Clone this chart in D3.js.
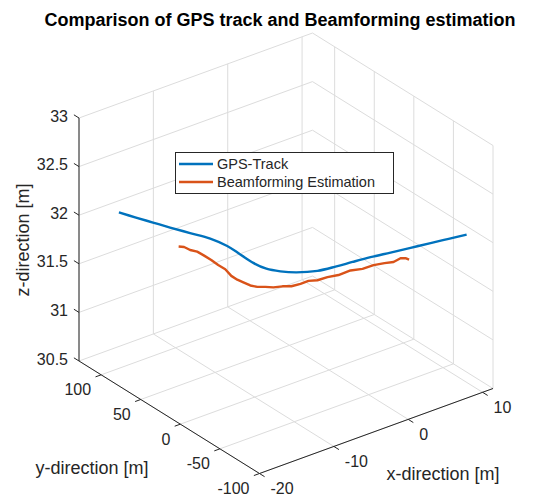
<!DOCTYPE html>
<html><head><meta charset="utf-8">
<script src="https://cdn.jsdelivr.net/npm/d3@7"></script>
<style>body{margin:0;background:#fff}svg{display:block}text{font-family:"Liberation Sans",Arial,Helvetica,sans-serif;fill:#262626}</style>
</head><body><svg id="c" width="536" height="497"></svg>
<script>
// ---- data ----
const gpsX = [-16.23,-15.49,-14.72,-13.95,-13.0,-12.04,-11.61,-11.65,-11.70,-11.38,-10.55,-9.33,-7.34,-5.12,-3.15,-0.97,1.36,3.70,6.05,8.16,10.27];
const gpsY = [113.0,98.4,84.1,69.8,53.4,37.0,19.6,2.7,-14.2,-27.7,-37.6,-46.4,-54.3,-57.4,-59.2,-61.5,-64.9,-68.2,-71.4,-74.4,-77.3];
const gpsZ = [32.0,32.0,32.0,32.0,32.0,32.0,32.0,32.0,32.0,32.0,32.0,32.0,32.0,32.0,32.0,32.0,32.0,32.0,32.0,32.0,32.0];
const bfX = [-13.82,-13.49,-13.26,-13.0,-12.88,-12.96,-12.91,-12.99,-13.35,-13.31,-13.28,-13.03,-12.57,-12.01,-11.34,-10.50,-9.61,-8.57,-7.55,-6.58,-5.41,-4.12,-2.57,-1.21,0.14,1.40,2.37,3.36,3.86,3.96];
const bfY = [60.2,56.4,50.9,44.5,36.8,27.1,18.8,9.1,-1.9,-9.1,-16.5,-22.9,-27.5,-32.3,-36.2,-39.7,-42.7,-44.4,-44.9,-47.1,-48.8,-50.6,-51.2,-53.6,-54.9,-56.9,-59.2,-58.7,-60.3,-63.9];
const bfZ = [31.850,31.855,31.846,31.854,31.849,31.856,31.845,31.853,31.850,31.846,31.855,31.849,31.845,31.854,31.850,31.855,31.846,31.851,31.855,31.846,31.854,31.849,31.856,31.846,31.854,31.850,31.846,31.854,31.850,31.850];
const xTicks = [-20,-10,0,10];
const yTicks = [-100,-50,0,50,100];
const zTicks = [30.5,31,31.5,32,32.5,33];
const xTickLabels = ["-20","-10","0","10"];
const yTickLabels = ["-100","-50","0","50","100"];
const zTickLabels = ["30.5","31","31.5","32","32.5","33"];
const xLim = [-20, 11.4], yLim = [-100, 128], zLim = [30.5, 33];
const seriesNames = ["GPS-Track","Beamforming Estimation"];
const seriesColors = ["#0072BD","#D95319"];
const titleText = "Comparison of GPS track and Beamforming estimation";

// ---- projection ----
const svg = d3.select("#c");
const O = [259.5, 473.5], VX = [233.5, -85], VY = [-180.5, -112.5], VZ = [0, -243];
const fx = d3.scaleLinear().domain(xLim).range([0,1]);
const fy = d3.scaleLinear().domain(yLim).range([0,1]);
const fz = d3.scaleLinear().domain(zLim).range([0,1]);
function P(x,y,z){const a=fx(x),b=fy(y),c=fz(z);return [O[0]+a*VX[0]+b*VY[0]+c*VZ[0],O[1]+a*VX[1]+b*VY[1]+c*VZ[1]];}
function unit(v){const l=Math.hypot(v[0],v[1]);return [v[0]/l,v[1]/l];}
const [x0,x1]=xLim,[y0,y1]=yLim,[z0,z1]=zLim;

const segs = [];
xTicks.forEach(x=>{segs.push([P(x,y1,z0),P(x,y1,z1)]); segs.push([P(x,y0,z0),P(x,y1,z0)]);});
yTicks.forEach(y=>{segs.push([P(x1,y,z0),P(x1,y,z1)]); segs.push([P(x0,y,z0),P(x1,y,z0)]);});
zTicks.forEach(z=>{segs.push([P(x0,y1,z),P(x1,y1,z)]); segs.push([P(x1,y0,z),P(x1,y1,z)]);});
svg.append("g").selectAll("line").data(segs).join("line")
  .attr("x1",d=>d[0][0]).attr("y1",d=>d[0][1]).attr("x2",d=>d[1][0]).attr("y2",d=>d[1][1])
  .attr("stroke","#dcdcdc").attr("stroke-width",1);

// axes
const ax = svg.append("g").attr("stroke","#262626").attr("stroke-width",1);
[[P(x0,y1,z0),P(x0,y1,z1)],[P(x0,y0,z0),P(x0,y1,z0)],[P(x0,y0,z0),P(x1,y0,z0)]].forEach(s=>{
  ax.append("line").attr("x1",s[0][0]).attr("y1",s[0][1]).attr("x2",s[1][0]).attr("y2",s[1][1]);
});
const TL=6, uX=unit(VX), uY=unit(VY);
zTicks.forEach((z,i)=>{const p=P(x0,y1,z);
  ax.append("line").attr("x1",p[0]).attr("y1",p[1]).attr("x2",p[0]+uY[0]*TL).attr("y2",p[1]+uY[1]*TL);
  svg.append("text").attr("x",p[0]-11).attr("y",p[1]-2).attr("text-anchor","end").attr("dominant-baseline","central").attr("font-size",16).text(zTickLabels[i]);
});
yTicks.forEach((y,i)=>{const p=P(x0,y,z0);
  ax.append("line").attr("x1",p[0]).attr("y1",p[1]).attr("x2",p[0]-uX[0]*TL).attr("y2",p[1]-uX[1]*TL);
  svg.append("text").attr("x",p[0]-10).attr("y",p[1]+15).attr("text-anchor","end").attr("dominant-baseline","central").attr("font-size",16).text(yTickLabels[i]);
});
xTicks.forEach((x,i)=>{const p=P(x,y0,z0);
  ax.append("line").attr("x1",p[0]).attr("y1",p[1]).attr("x2",p[0]-uY[0]*TL).attr("y2",p[1]-uY[1]*TL);
  svg.append("text").attr("x",p[0]+11).attr("y",p[1]+15).attr("text-anchor","start").attr("dominant-baseline","central").attr("font-size",16).text(xTickLabels[i]);
});

// data
const gps = gpsX.map((x,i)=>P(x,gpsY[i],gpsZ[i]));
const bf = bfX.map((x,i)=>P(x,bfY[i],bfZ[i]));
svg.append("path").attr("d",d3.line().curve(d3.curveCatmullRom)(gps)).attr("fill","none").attr("stroke",seriesColors[0]).attr("stroke-width",2.4).attr("stroke-linejoin","round");
svg.append("path").attr("d",d3.line()(bf)).attr("fill","none").attr("stroke",seriesColors[1]).attr("stroke-width",2.4).attr("stroke-linejoin","round");

// axis labels
svg.append("text").attr("x",443).attr("y",474).attr("text-anchor","middle").attr("dominant-baseline","central").attr("font-size",18).text("x-direction [m]");
svg.append("text").attr("x",92).attr("y",468).attr("text-anchor","middle").attr("dominant-baseline","central").attr("font-size",18).text("y-direction [m]");
svg.append("text").attr("transform","translate(23,240) rotate(-90)").attr("text-anchor","middle").attr("dominant-baseline","central").attr("font-size",18).text("z-direction [m]");

// title
svg.append("text").attr("x",280).attr("y",20).attr("text-anchor","middle").attr("dominant-baseline","central").attr("font-size",18).attr("font-weight","bold").style("fill","#000").text(titleText);

// legend
const lg = svg.append("g");
lg.append("rect").attr("x",175.5).attr("y",152.5).attr("width",218).attr("height",41).attr("fill","#fff").attr("stroke","#262626").attr("stroke-width",1);
seriesNames.forEach((n,i)=>{const yy=164+i*18;
  lg.append("line").attr("x1",179).attr("x2",213).attr("y1",yy).attr("y2",yy).attr("stroke",seriesColors[i]).attr("stroke-width",2.4);
  lg.append("text").attr("x",217).attr("y",yy).attr("dominant-baseline","central").attr("font-size",14.5).text(n);
});
</script></body></html>
